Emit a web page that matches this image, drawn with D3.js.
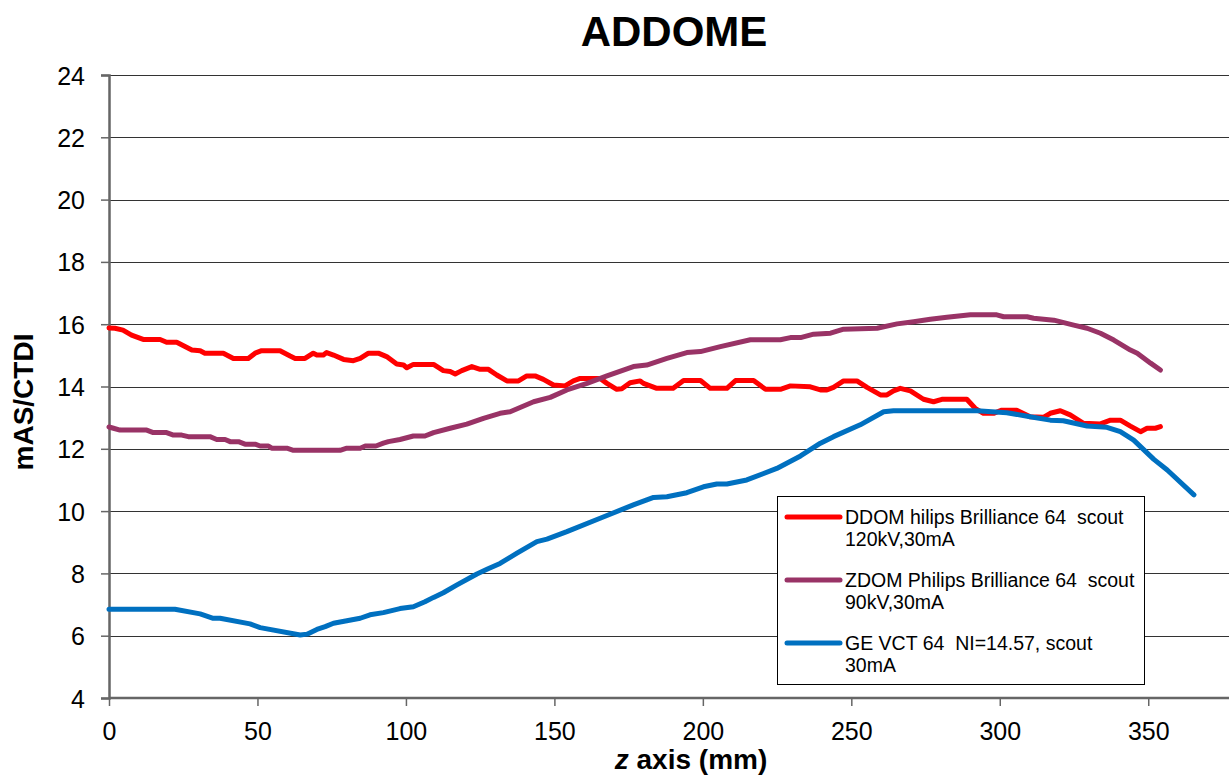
<!DOCTYPE html>
<html>
<head>
<meta charset="utf-8">
<script src="https://cdn.jsdelivr.net/npm/d3@7"></script>
<style>
  html, body { margin: 0; padding: 0; background: #fff; }
  svg { display: block; }
  text { font-family: "Liberation Sans", Arial, sans-serif; fill: #000; }
</style>
</head>
<body>
<svg id="chart" width="1229" height="776"></svg>
<script>
// ---- Data ----
const title = "ADDOME";
const yTicks = [4, 6, 8, 10, 12, 14, 16, 18, 20, 22, 24];
const xTicks = [0, 50, 100, 150, 200, 250, 300, 350];
const seriesNames = [
  ["DDOM hilips Brilliance 64  scout", "120kV,30mA"],
  ["ZDOM Philips Brilliance 64  scout", "90kV,30mA"],
  ["GE VCT 64  NI=14.57, scout", "30mA"]
];
const seriesColors = ["#FF0000", "#993366", "#0070C0"];

const ddomPhilips120 = [
  [0,15.88],[2,15.87],[4.7,15.81],[7.6,15.65],[11.5,15.51],[17.2,15.51],[19.4,15.42],[22.8,15.42],
  [27.9,15.17],[30.7,15.15],[32.3,15.07],[38.5,15.07],[41.9,14.9],[46.9,14.9],[49.2,15.07],
  [51.4,15.15],[57.6,15.15],[61,14.98],[62.7,14.9],[66,14.9],[68.8,15.07],[70,15.01],[72.2,15.01],
  [73.3,15.09],[75.6,15.01],[79,14.87],[82.3,14.83],[84.6,14.9],[87.4,15.07],[90.7,15.07],
  [93.5,14.96],[96.9,14.72],[99.2,14.69],[100.3,14.6],[102.5,14.71],[109.3,14.71],[112.6,14.51],
  [114.9,14.48],[116.6,14.4],[118.8,14.51],[122.2,14.64],[125,14.55],[127.8,14.55],[130.6,14.37],
  [134,14.18],[137.9,14.18],[140.7,14.34],[143.5,14.34],[146.3,14.23],[149.7,14.05],[153.6,14.02],
  [156.4,14.18],[158.7,14.26],[165.4,14.26],[167.7,14.1],[171,13.91],[172.7,13.93],[175.5,14.12],
  [178.9,14.18],[180,14.1],[184.5,13.94],[190,13.94],[193.5,14.19],[199.2,14.19],[202.5,13.94],
  [208.1,13.94],[211,14.19],[217.1,14.19],[221.1,13.91],[226.1,13.91],[229.5,14.02],[236.2,13.99],
  [239.6,13.89],[241.8,13.89],[244,13.97],[247.4,14.18],[251.9,14.18],[255.3,13.97],[259.8,13.73],
  [262,13.73],[264.2,13.86],[266.5,13.94],[269.9,13.86],[274.3,13.59],[277.7,13.51],[280.5,13.59],
  [288.9,13.59],[291.7,13.3],[294.5,13.14],[297.9,13.14],[300.7,13.24],[305.7,13.24],[310.2,13.03],
  [314.7,13.01],[317,13.14],[320.4,13.22],[323.7,13.09],[328.2,12.82],[333.9,12.8],[337.3,12.92],
  [340.6,12.92],[344,12.73],[347.4,12.55],[349.6,12.66],[352.4,12.66],[354.1,12.71]
];

const zdomPhilips90 = [
  [0,12.7],[1.5,12.66],[3.7,12.6],[12.7,12.6],[14.9,12.52],[19.4,12.52],[21.7,12.44],[24.5,12.44],
  [26.7,12.39],[34,12.39],[36.3,12.3],[39.1,12.3],[40.8,12.23],[43.6,12.23],[45.8,12.15],[49.2,12.15],
  [50.9,12.09],[53.7,12.09],[54.8,12.02],[59.9,12.02],[62.1,11.95],[77.8,11.95],[80.1,12.02],
  [84.6,12.02],[86.3,12.09],[89.9,12.09],[92.4,12.18],[94.1,12.23],[98,12.3],[102.5,12.41],
  [106.4,12.41],[109.3,12.52],[114.9,12.66],[120.5,12.79],[126.1,12.98],[131.7,13.14],[135.1,13.19],
  [143,13.51],[148.6,13.65],[154.2,13.89],[161,14.1],[167.7,14.34],[176.6,14.64],[181.1,14.69],
  [187.9,14.9],[194.6,15.09],[199.2,15.12],[205.9,15.28],[216,15.5],[226.1,15.5],[229.5,15.57],
  [232.9,15.57],[237.3,15.68],[243,15.71],[247.4,15.84],[258.7,15.87],[265.4,16.01],[271,16.08],
  [276.6,16.16],[282.2,16.22],[290.1,16.3],[299,16.3],[301.3,16.24],[309.2,16.24],[311.4,16.19],
  [318.2,16.13],[324.9,15.97],[329.4,15.87],[333.9,15.71],[338.4,15.49],[344,15.17],[346.3,15.07],
  [350.8,14.75],[354.1,14.53]
];

const geVct64 = [
  [0,6.85],[22.2,6.85],[30.7,6.7],[35.1,6.56],[37.4,6.56],[47.5,6.38],[50.9,6.26],[64.4,6.02],
  [66.7,6.05],[70,6.2],[72.8,6.29],[75.6,6.4],[84.6,6.56],[87.9,6.67],[92.4,6.74],[98,6.87],
  [102.5,6.93],[106.4,7.09],[109.3,7.23],[112.6,7.38],[117.2,7.63],[123.9,7.98],[127.3,8.13],
  [131.7,8.32],[137.4,8.65],[144.1,9.02],[147.5,9.1],[154.2,9.34],[165.4,9.77],[176.6,10.2],
  [183.4,10.44],[187.9,10.46],[194.6,10.59],[200.2,10.78],[204.7,10.87],[208.1,10.87],[214.8,11.0],
  [224.9,11.37],[232.9,11.77],[239.6,12.18],[244,12.39],[253,12.77],[260.9,13.19],[264.2,13.22],
  [292.3,13.22],[302.4,13.16],[310.2,13.03],[317,12.92],[321.4,12.9],[329.4,12.73],[336.1,12.69],
  [340.6,12.55],[345.1,12.28],[351.9,11.66],[356.4,11.32],[365.4,10.52]
];

const allSeries = [ddomPhilips120, zdomPhilips90, geVct64];

// ---- Layout ----
const svg = d3.select("#chart");
const pLeft = 109, pRight = 1229, pTop = 75, pBottom = 698;

const x = d3.scaleLinear().domain([0, 377.2]).range([pLeft, pRight]);
const y = d3.scaleLinear().domain([4, 24]).range([pBottom, pTop]);

// gridlines
svg.append("g")
  .selectAll("line").data(yTicks.filter(d => d !== 4)).join("line")
  .attr("x1", pLeft).attr("x2", pRight)
  .attr("y1", d => Math.round(y(d)) + 0.5).attr("y2", d => Math.round(y(d)) + 0.5)
  .attr("stroke", "#333").attr("stroke-width", 1);

// y axis
const yAxis = d3.axisLeft(y).tickValues(yTicks).tickSize(8).tickPadding(16);
const gy = svg.append("g").attr("transform", `translate(${pLeft},0)`).call(yAxis);
gy.select(".domain").attr("stroke", "#666").attr("stroke-width", 2.5);
gy.selectAll(".tick line").attr("stroke", "#666").attr("stroke-width", 1.5);
gy.selectAll(".tick text").attr("font-size", 25).attr("font-family", "Liberation Sans, Arial, sans-serif").attr("fill", "#000").attr("dy", "0.36em");

// x axis
const xAxis = d3.axisBottom(x).tickValues(xTicks).tickSize(8).tickPadding(16);
const gx = svg.append("g").attr("transform", `translate(0,${pBottom})`).call(xAxis);
gx.select(".domain").attr("stroke", "#666").attr("stroke-width", 2.5).attr("d", `M${pLeft},0H${pRight}`);
gx.selectAll(".tick line").attr("stroke", "#666").attr("stroke-width", 1.5);
gx.selectAll(".tick text").attr("font-size", 25).attr("font-family", "Liberation Sans, Arial, sans-serif").attr("fill", "#000");

// lines
const line = d3.line().x(d => x(d[0])).y(d => y(d[1]));
svg.append("g").selectAll("path").data(allSeries).join("path")
  .attr("d", line)
  .attr("fill", "none")
  .attr("stroke", (d, i) => seriesColors[i])
  .attr("stroke-width", 5)
  .attr("stroke-linejoin", "round")
  .attr("stroke-linecap", "round");

// title
svg.append("text").attr("x", 674).attr("y", 46).attr("text-anchor", "middle")
  .attr("font-size", 42).attr("font-weight", "bold").text(title);

// axis titles
const xl = svg.append("text").attr("x", 691).attr("y", 769).attr("text-anchor", "middle")
  .attr("font-size", 28).attr("font-weight", "bold");
xl.append("tspan").attr("font-style", "italic").text("z");
xl.append("tspan").text(" axis (mm)");

svg.append("text").attr("transform", "translate(33,402) rotate(-90)")
  .attr("text-anchor", "middle").attr("font-size", 28).attr("font-weight", "bold").text("mAS/CTDI");

// legend
const lg = svg.append("g");
lg.append("rect").attr("x", 777.5).attr("y", 496.5).attr("width", 367).attr("height", 188)
  .attr("fill", "#fff").attr("stroke", "#000").attr("stroke-width", 1);
const legendY = [517, 580, 643];
seriesNames.forEach((names, i) => {
  lg.append("line").attr("x1", 787).attr("x2", 840)
    .attr("y1", legendY[i]).attr("y2", legendY[i])
    .attr("stroke", seriesColors[i]).attr("stroke-width", 5).attr("stroke-linecap", "round");
  names.forEach((t, j) => {
    lg.append("text").attr("x", 845).attr("y", legendY[i] + 7 + j * 22)
      .attr("font-size", 19.5).attr("xml:space", "preserve").style("white-space", "pre").text(t);
  });
});
</script>
</body>
</html>
